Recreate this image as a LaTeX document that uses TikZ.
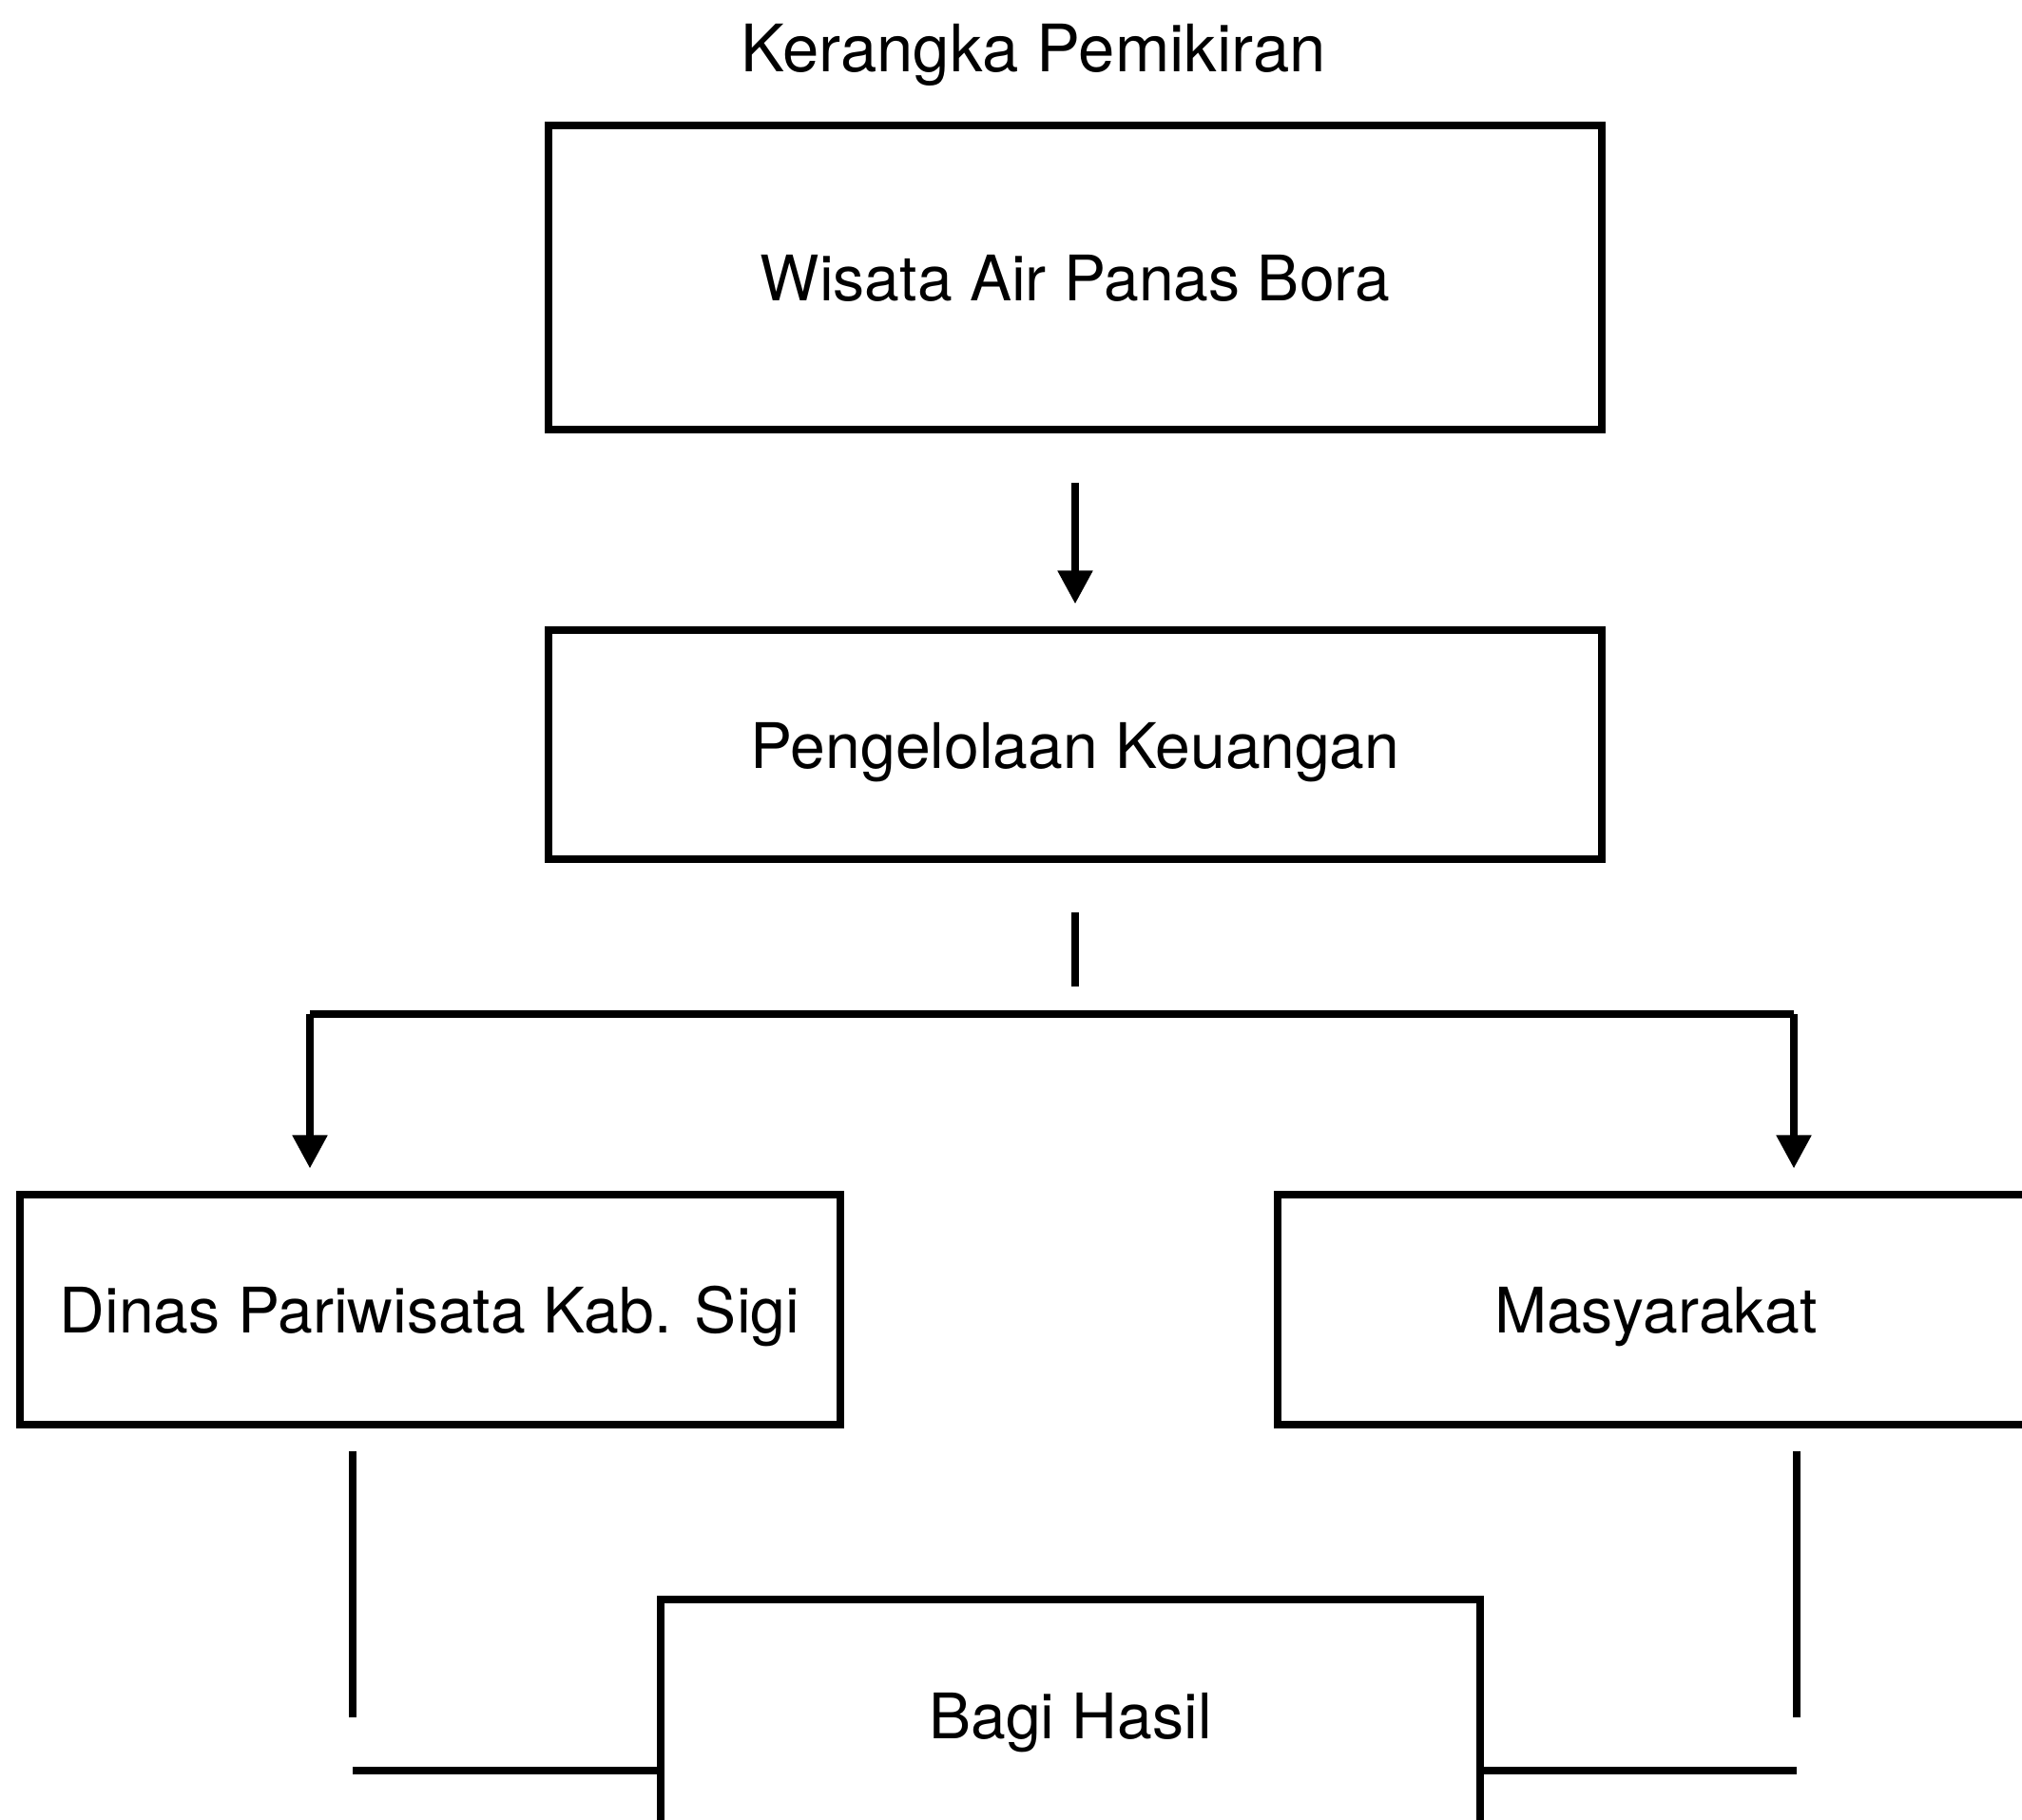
\documentclass[tikz,border=0pt]{standalone}
\usepackage{fontspec}
\setmainfont{TeX Gyre Heros}
\usepackage{tikz}
\usetikzlibrary{arrows.meta,positioning,calc}

\begin{document}
\begin{tikzpicture}[
  stage/.style={draw, line width=0.8mm, outer sep=0pt, align=center,
                text depth=0pt, minimum height=24.1mm,
                font=\fontsize{18.8}{22}\selectfont},
  heading/.style={font=\fontsize{19.6}{23}\selectfont},
  link/.style={line width=0.8mm},
  flow/.style={line width=0.8mm, -{Triangle[length=3.5mm, width=3.5mm]}}
]
\useasboundingbox (0,0) rectangle (21.27,-19.15);

\node[heading] (title) at (10.87,-0.58) {Kerangka Pemikiran};

\node[stage, minimum width=110.8mm, minimum height=32mm] (wisata) at (11.31,-2.92)
  {Wisata Air Panas Bora};
\node[stage, minimum width=110.8mm] (keuangan) at (11.31,-7.84)
  {Pengelolaan Keuangan};
\node[stage, minimum width=86.3mm] (dinas) at (4.52,-13.78)
  {Dinas Pariwisata Kab. Sigi};
\node[stage, minimum width=79.6mm] (masyarakat) at (17.42,-13.78)
  {Masyarakat};
\node[stage, minimum width=86.2mm, minimum height=24.5mm] (bagi) at (11.26,-18.05)
  {Bagi Hasil};

% branch points
\coordinate (busL) at (3.26,-10.67);
\coordinate (busR) at (18.87,-10.67);
\coordinate (dropL) at (3.71,-15.27);
\coordinate (dropR) at (18.90,-15.27);
\coordinate (baseL) at (3.71,-18.63);
\coordinate (baseR) at (18.90,-18.63);

\draw[flow] ($(wisata.south)+(0,-0.56)$) -- ($(keuangan.north)+(0,0.28)$);
\draw[link] ($(keuangan.south)+(0,-0.56)$) -- ($(keuangan.south)+(0,-1.34)$);
\draw[link] (busL) -- (busR);
\draw[flow] (busL) -- ($(busL |- dinas.north)+(0,0.28)$);
\draw[flow] (busR) -- ($(busR |- masyarakat.north)+(0,0.28)$);

\draw[link] (dropL) -- ($(dropL)+(0,-2.80)$);
\draw[link] (dropR) -- ($(dropR)+(0,-2.80)$);
\draw[link] (baseL) -- (baseL -| bagi.west);
\draw[link] (bagi.east |- baseR) -- (baseR);
\end{tikzpicture}
\end{document}
